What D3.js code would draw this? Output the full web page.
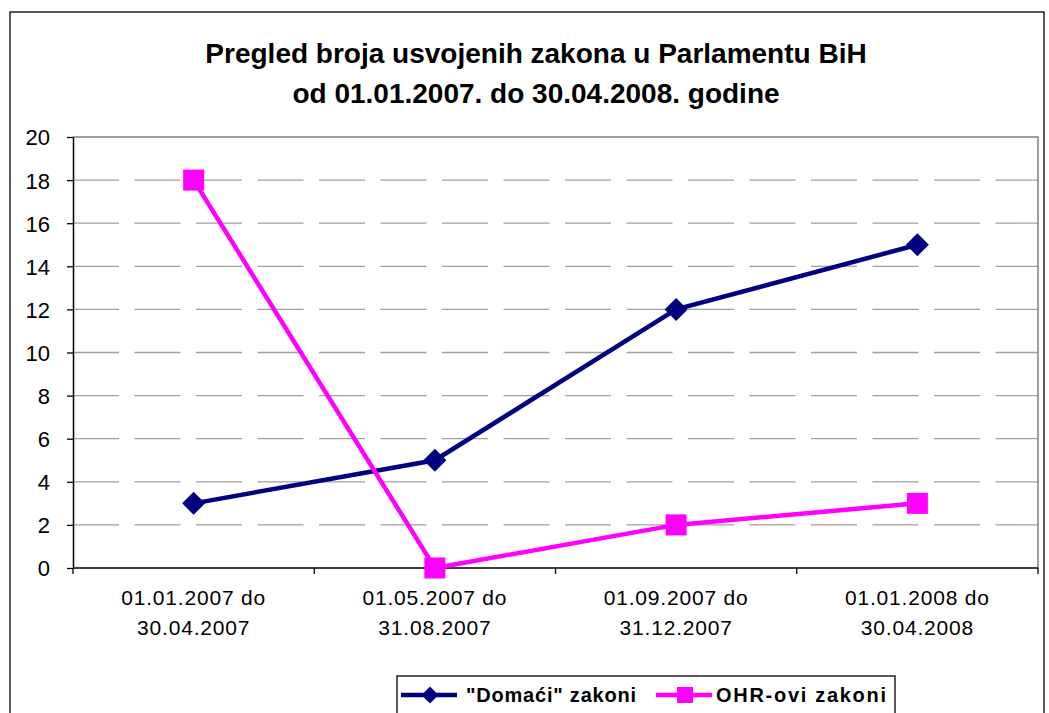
<!DOCTYPE html>
<html><head><meta charset="utf-8">
<script src="https://cdn.jsdelivr.net/npm/d3@7"></script>
<style>body{margin:0;background:#fff}svg{display:block}text{font-family:"Liberation Sans",Arial,sans-serif}</style>
</head><body><svg id="c" width="1049" height="713"></svg>
<script>
const titleLines = ["Pregled broja usvojenih zakona u Parlamentu BiH", "od 01.01.2007. do 30.04.2008. godine"];
const categories = [["01.01.2007 do","30.04.2007"],["01.05.2007 do","31.08.2007"],["01.09.2007 do","31.12.2007"],["01.01.2008 do","30.04.2008"]];
const domaci = [3, 5, 12, 15];
const ohr = [18, 0, 2, 3];
const yTicks = [0,2,4,6,8,10,12,14,16,18,20];
const seriesNames = ['"Domaći" zakoni', 'OHR-ovi zakoni'];
const colors = ["#000080", "#FF00FF"];

const svg = d3.select("#c");
svg.append("rect").attr("x",10).attr("y",12).attr("width",1034).attr("height",720)
  .attr("fill","#fff").attr("stroke","#000").attr("stroke-width",1.3);

svg.selectAll(".title").data(titleLines).enter().append("text")
  .attr("x",536).attr("y",(d,i)=>63+i*40).attr("text-anchor","middle")
  .attr("font-size",28).attr("font-weight","bold").text(d=>d);

const L=73, R=1038, T=137, B=568;
const x = d3.scaleBand().domain(d3.range(categories.length)).range([L,R]);
const y = d3.scaleLinear().domain([0,20]).range([B,T]);

// gridlines
svg.append("g").selectAll("line").data(yTicks.filter(v=>v>0 && v<20)).enter().append("line")
  .attr("x1",L).attr("x2",R).attr("y1",d=>y(d)).attr("y2",d=>y(d))
  .attr("stroke","#a0a0a0").attr("stroke-width",1.3).attr("stroke-dasharray","46,15.5");
// plot border top/right
svg.append("path").attr("d",`M${L},${y(20)}H${R}V${B}`).attr("fill","none").attr("stroke","#808080").attr("stroke-width",1.5);

// y axis
const ya = svg.append("g").attr("transform",`translate(${L},0)`)
  .call(d3.axisLeft(y).tickValues(yTicks).tickSize(6).tickPadding(17).tickSizeOuter(0));
ya.select(".domain").attr("stroke","#000").attr("stroke-width",1.5);
ya.selectAll(".tick line").attr("stroke","#000").attr("stroke-width",1.3);
ya.selectAll("text").attr("font-size",22).attr("fill","#000").attr("dy","0.36em")
  .attr("font-family","Liberation Sans, Arial, sans-serif");

// x axis
svg.append("line").attr("x1",L).attr("x2",R).attr("y1",B).attr("y2",B).attr("stroke","#000").attr("stroke-width",1.5);
const bounds = d3.range(categories.length+1).map(i=> i<categories.length ? x(i) : x(categories.length-1)+x.bandwidth());
svg.append("g").selectAll("line").data(bounds).enter().append("line")
  .attr("x1",d=>d).attr("x2",d=>d).attr("y1",B).attr("y2",B+6).attr("stroke","#000").attr("stroke-width",1.3);
const xl = svg.append("g").selectAll("text").data(categories).enter().append("text")
  .attr("text-anchor","middle").attr("font-size",21).attr("letter-spacing",0.8)
  .attr("transform",(d,i)=>`translate(${x(i)+x.bandwidth()/2},0)`);
xl.selectAll("tspan").data(d=>d).enter().append("tspan").attr("x",0).attr("y",(d,i)=>605+i*30).text(d=>d);

const cx = i=> x(i)+x.bandwidth()/2;
const line = d3.line().x((d,i)=>cx(i)).y(d=>y(d));
svg.append("path").datum(domaci).attr("d",line).attr("fill","none").attr("stroke",colors[0]).attr("stroke-width",4.5);
svg.append("path").datum(ohr).attr("d",line).attr("fill","none").attr("stroke",colors[1]).attr("stroke-width",4.5);
const diamond = s=>`M0,${-s}L${s},0L0,${s}L${-s},0Z`;
svg.append("g").selectAll("path").data(domaci).enter().append("path")
  .attr("d",diamond(11.5)).attr("transform",(d,i)=>`translate(${cx(i)},${y(d)})`).attr("fill",colors[0]);
svg.append("g").selectAll("rect").data(ohr).enter().append("rect")
  .attr("x",(d,i)=>cx(i)-10.5).attr("y",d=>y(d)-10.5).attr("width",21).attr("height",21).attr("fill",colors[1]);

// legend
const lg = svg.append("g");
lg.append("rect").attr("x",397).attr("y",676).attr("width",498).attr("height",50).attr("fill","#fff").attr("stroke","#000").attr("stroke-width",1.3);
const items = [{x0:401,tx:466},{x0:656,tx:716}];
items.forEach((it,k)=>{
  lg.append("line").attr("x1",it.x0).attr("x2",it.x0+56).attr("y1",695).attr("y2",695).attr("stroke",colors[k]).attr("stroke-width",4.5);
  if(k===0) lg.append("path").attr("d",diamond(8.5)).attr("transform",`translate(${it.x0+29},695)`).attr("fill",colors[0]);
  else lg.append("rect").attr("x",it.x0+21).attr("y",687).attr("width",16).attr("height",16).attr("fill",colors[1]);
  lg.append("text").attr("x",it.tx).attr("y",702).attr("font-size",20).attr("font-weight","bold")
    .attr("textLength",170).attr("lengthAdjust","spacing").text(seriesNames[k]);
});
</script></body></html>
